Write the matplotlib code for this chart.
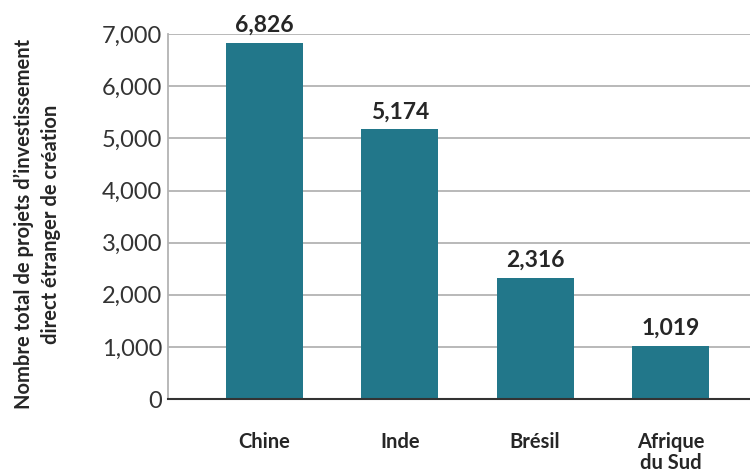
import matplotlib
matplotlib.use("Agg")
import matplotlib.pyplot as plt
import numpy as np

plt.rcParams['font.family'] = ['Lato', 'DejaVu Sans']

# nombre de projets IDE de création par pays
pays = ['Chine', 'Inde', 'Brésil', 'Afrique\ndu Sud']
projets = [6826, 5174, 2316, 1019]
yticks = [0, 1000, 2000, 3000, 4000, 5000, 6000, 7000]

bar_color = '#22778a'
grid_color = '#b3b3b3'
text_color = '#262626'

fig = plt.figure(figsize=(7.5, 4.75), dpi=100)
ax = fig.add_axes([0.224, 0.16, 0.776, 0.768])

x = np.arange(len(pays))
bars = ax.bar(x, projets, width=0.57, color=bar_color, zorder=3)

for xi, v in zip(x, projets):
    ax.annotate(f'{v:,}', (xi, v), xytext=(0, 8), textcoords='offset points',
                ha='center', va='baseline', fontsize=16.5, fontweight='bold',
                color=text_color)

ax.set_xlim(-0.713, 3.588)
ax.set_ylim(0, 7000)
ax.set_yticks(yticks)
ax.set_yticklabels([f'{t:,}' for t in yticks], fontsize=17, color='#333333')
ax.set_xticks(x)
ax.set_xticklabels(pays, fontsize=14.5, fontweight='bold', color=text_color,
                   linespacing=1.05, va='top')
ax.tick_params(axis='y', length=0, pad=4)
ax.tick_params(axis='x', length=0, pad=24)

ax.grid(axis='y', color=grid_color, linewidth=1.3, zorder=0)
for s in ['top', 'right']:
    ax.spines[s].set_visible(False)
ax.spines['left'].set_color(grid_color)
ax.spines['left'].set_linewidth(1.3)
ax.spines['bottom'].set_color('#333333')
ax.spines['bottom'].set_linewidth(1.5)
ax.spines['bottom'].set_zorder(4)

ax.set_ylabel("Nombre total de projets d’investissement\ndirect étranger de création",
              fontsize=14.5, fontweight='bold', color=text_color,
              linespacing=1.45, va='center', ha='center')
ax.yaxis.set_label_coords(-0.225, 0.48)

fig.savefig('out.png', dpi=100)
